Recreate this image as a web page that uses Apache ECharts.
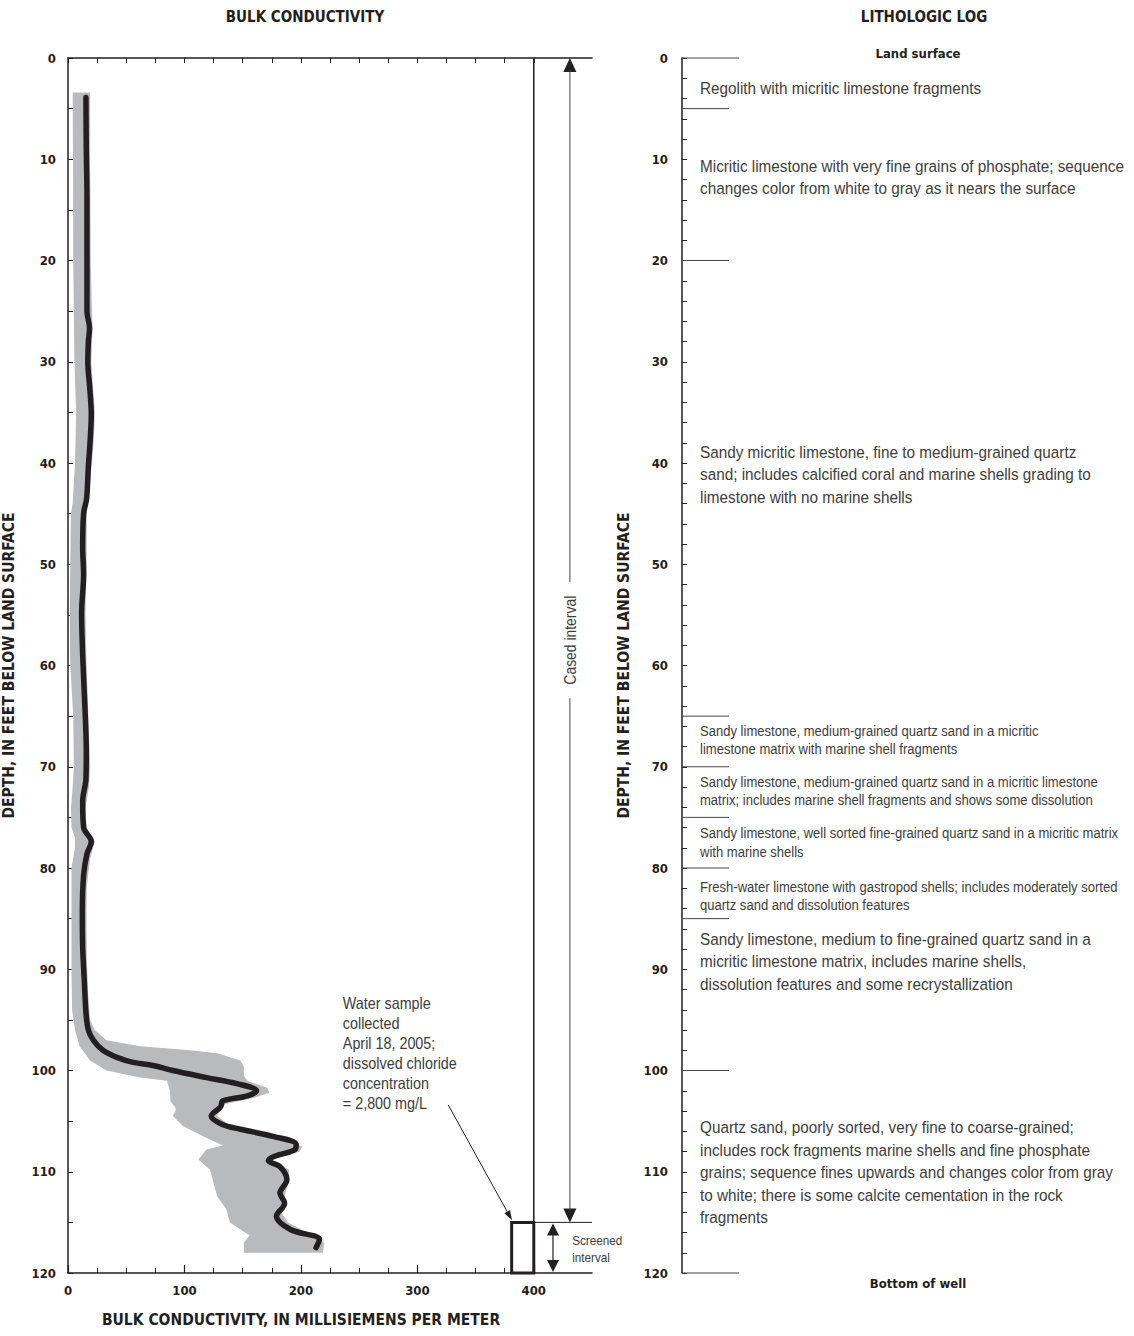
<!DOCTYPE html>
<html><head><meta charset="utf-8">
<script src="https://cdn.jsdelivr.net/npm/echarts@6/dist/echarts.min.js"></script>
<style>html,body{margin:0;padding:0;background:#fff}#c{width:1134px;height:1336px}</style>
</head><body><div id="c"></div>
<script>
// ---------------- DATA ----------------
// Bulk conductivity log (black curve): depth (ft) and conductivity (mS/m)
const curveDepth = [3.9,6,9,14,19,25,26.7,28,30,32.5,35.2,37.8,40.5,43.5,45,48.4,51,54.8,59,64.3,68.5,71.2,73.4,76,77.4,78.6,80.7,84.5,87.8,91.1,94.4,96,97,98,98.7,99.2,99.5,100,100.7,101.3,102,102.5,103,103.6,104.5,105.3,105.8,106.5,107.3,107.8,108.5,108.9,109.5,110.8,112.1,113.1,114.4,115.7,116.7,117.5];
const curveValue = [15.4,15.5,15.7,16.3,16.3,16.3,18.5,17.5,17,18.6,20,19,17.4,16,13.4,12.6,13.4,11.7,12.6,14.6,15.7,15.4,12.6,13.4,20,16.3,13.4,12.3,12.6,14,15.5,17.5,21.7,30,42,56,73,90,119,145,162,154,133,131,123,132,148,176,196,195,177,172,182,188,182,186,179,191,216,213];
// Gray envelope: left (low) edge and right (high) edge
const bandLeftDepth = [3.4,10,20,30,35,40,44,45,50,55,60,65,70,72,74,76,77,78,80,85,90,94,96,97.6,99,100,100.7,101,102,103,103.8,104.5,105.5,106.5,107.4,107.8,108.8,109.8,111.1,112.4,113.7,115,116.3,117,118];
const bandLeftValue = [4,4.3,4.5,5.5,7,6,4,2.5,2,1.5,2,4.5,5,4,2.6,3,6,6,3,3,3,3.5,6,10,19,33,62,85,87.6,88,93,90,99,116,133,119,112,122,125,128,136,139,156,151,151];
const bandRightDepth = [3.4,10,20,26.7,30,35,38,42,45,50,55,60,65,70,72,74,76,77.4,79,82,88,92,95,96,97,97.6,98,98.3,99,99.6,100.5,101,101.7,102.2,102.7,103.3,104.5,105.5,106.5,107.5,108,108.8,109.8,111,112.5,114,115,116.3,117,118];
const bandRightValue = [19,19,19.5,21,20,23,22,19,16,16,15,16,17.5,19,18,15,16,23,19,16,16,17,19,23,33,62,105,128,148,151,151,154,171,173,160,135,128,140,178,201,199,175,190,189,186,183,189,210,220,219];

// Axis ticks
const conductivityLabels = [0,100,200,300,400];
const conductivityMinorTicks = [0,25,50,75,100,125,150,175,200,225,250,275,300,325,350,375,400];
const depthLabels = [0,10,20,30,40,50,60,70,80,90,100,110,120];

// Well construction
const casingConductivity = 400;      // casing line drawn at this conductivity
const casedInterval = [0,115];
const screenedInterval = [115,120];
const sampleNote = 'Water sample\ncollected\nApril 18, 2005;\ndissolved chloride\nconcentration\n= 2,800 mg/L';

// Lithologic log
const layerTop = [0,5,20,65,70,75,80,85,100];
const layerBottom = [5,20,65,70,75,80,85,100,120];
const layerLabelDepth = [2.9,11.7,41.1,67.4,72.4,77.5,82.8,89.2,110.0];
const layerDesc = [
  'Regolith with micritic limestone fragments',
  'Micritic limestone with very fine grains of phosphate; sequence\nchanges color from white to gray as it nears the surface',
  'Sandy micritic limestone, fine to medium-grained quartz\nsand; includes calcified coral and marine shells grading to\nlimestone with no marine shells',
  'Sandy limestone, medium-grained quartz sand in a micritic\nlimestone matrix with marine shell fragments',
  'Sandy limestone, medium-grained quartz sand in a micritic limestone\nmatrix; includes marine shell fragments and shows some dissolution',
  'Sandy limestone, well sorted fine-grained quartz sand in a micritic matrix\nwith marine shells',
  'Fresh-water limestone with gastropod shells; includes moderately sorted\nquartz sand and dissolution features',
  'Sandy limestone, medium to fine-grained quartz sand in a\nmicritic limestone matrix, includes marine shells,\ndissolution features and some recrystallization',
  'Quartz sand, poorly sorted, very fine to coarse-grained;\nincludes rock fragments marine shells and fine phosphate\ngrains; sequence fines upwards and changes color from gray\nto white; there is some calcite cementation in the rock\nfragments'
];

// ---------------- STYLE ----------------
const NARROW = "'Liberation Sans Narrow','DejaVu Sans Condensed','Arial Narrow',sans-serif";
const LIGHT = "'Liberation Sans',Arial,sans-serif";
const INK = '#231f20';
const TEXT = '#3d3d3d';
const BAND = '#b9babc';
const SMALL_LAYERS = new Set([3,4,5,6]);

const chart = echarts.init(document.getElementById('c'), null, {renderer:'svg', width:1134, height:1336});

function headTri(x, y, dir, w, h) { // dir -1 = up, 1 = down; tip at (x,y)
  return {type:'polygon', shape:{points:[[x,y],[x-w/2,y-dir*h],[x+w/2,y-dir*h]]}, style:{fill:INK}};
}
function seg(p1, p2, w, color) {
  return {type:'line', shape:{x1:p1[0],y1:p1[1],x2:p2[0],y2:p2[1]}, style:{stroke:color||INK, lineWidth:w||1}};
}

function renderBand(params, api) {
  const pts = [];
  for (let i = 0; i < bandLeftDepth.length; i++) pts.push(api.coord([bandLeftValue[i], bandLeftDepth[i]]));
  for (let i = bandRightDepth.length - 1; i >= 0; i--) pts.push(api.coord([bandRightValue[i], bandRightDepth[i]]));
  return {type:'polygon', shape:{points:pts}, style:{fill:BAND}};
}

function renderWell(params, api) {
  const c = (x, d) => api.coord([x, d]);
  const ch = [];
  // casing line
  ch.push(seg(c(casingConductivity, 0), c(casingConductivity, 120), 1.5));
  // screen top line
  ch.push(seg(c(casingConductivity, screenedInterval[0]), c(450, screenedInterval[0]), 1));
  // screened box
  const b1 = c(381, screenedInterval[0]), b2 = c(casingConductivity, screenedInterval[1]);
  ch.push({type:'rect', shape:{x:b1[0], y:b1[1], width:b2[0]-b1[0], height:b2[1]-b1[1]}, style:{fill:'none', stroke:INK, lineWidth:3}});
  // cased interval arrow
  const ct = c(431, casedInterval[0]), cb = c(431, casedInterval[1]);
  const mid = (ct[1] + cb[1]) / 2;
  ch.push(headTri(ct[0], ct[1], -1, 13, 14));
  ch.push(headTri(cb[0], cb[1], 1, 13, 14));
  ch.push(seg([ct[0], ct[1] + 12], [ct[0], mid - 58], 1, '#444'));
  ch.push(seg([ct[0], mid + 58], [ct[0], cb[1] - 12], 1, '#444'));
  ch.push({type:'text', x:ct[0], y:mid, rotation:Math.PI/2, scaleX:0.87,
    style:{text:'Cased interval', fontFamily:LIGHT, fontSize:16, fill:TEXT, align:'center', verticalAlign:'middle'}});
  // screened interval arrow
  const st = c(416.5, screenedInterval[0]), sb = c(416.5, screenedInterval[1]);
  ch.push(headTri(st[0], st[1] + 1, -1, 12, 12));
  ch.push(headTri(sb[0], sb[1] - 1, 1, 12, 12));
  ch.push(seg([st[0], st[1] + 10], [st[0], sb[1] - 10], 1.2));
  const sl = c(433, (screenedInterval[0] + screenedInterval[1]) / 2);
  ch.push({type:'text', x:sl[0], y:sl[1] + 2, scaleX:0.9,
    style:{text:'Screened\ninterval', fontFamily:LIGHT, fontSize:13, lineHeight:17, fill:TEXT, align:'left', verticalAlign:'middle'}});
  // water sample note
  const np = c(236, 98.3);
  ch.push({type:'text', x:np[0], y:np[1], scaleX:0.87,
    style:{text:sampleNote, fontFamily:LIGHT, fontSize:16.5, lineHeight:20, fill:TEXT, align:'left', verticalAlign:'middle'}});
  const a1 = c(326.5, 103.4), a2 = c(381.3, 114.8);
  const ang = Math.atan2(a2[1]-a1[1], a2[0]-a1[0]);
  const L = 10, W = 3.2;
  const bx = a2[0] - L*Math.cos(ang), by = a2[1] - L*Math.sin(ang);
  ch.push(seg(a1, [bx, by], 1));
  ch.push({type:'polygon', shape:{points:[a2,[bx - W*Math.sin(ang), by + W*Math.cos(ang)],[bx + W*Math.sin(ang), by - W*Math.cos(ang)]]}, style:{fill:INK}});
  return {type:'group', children:ch};
}

function renderLitho(params, api) {
  const ch = [];
  const bounds = layerTop.concat([layerBottom[layerBottom.length-1]]);
  const top0 = bounds[0], bot0 = bounds[bounds.length-1];
  bounds.forEach(d => {
    const p = api.coord([0, d]);
    const len = (d === top0 || d === bot0) ? 57 : 47;
    ch.push(seg([p[0], p[1]], [p[0] + len, p[1]], 1, '#444'));
  });
  layerDesc.forEach((txt, i) => {
    const p = api.coord([0, layerLabelDepth[i]]);
    const small = SMALL_LAYERS.has(i);
    ch.push({type:'text', x:p[0] + 18, y:p[1], scaleX: 0.9,
      style:{text:txt, fontFamily:LIGHT, fontSize: small ? 14.5 : 17, lineHeight: small ? 18.5 : 22.5,
        fill:TEXT, align:'left', verticalAlign:'middle'}});
  });
  const pt = api.coord([0, top0]), pb = api.coord([0, bot0]);
  ch.push({type:'text', x:pt[0] + 236, y:pt[1] - 5,
    style:{text:'Land surface', fontFamily:NARROW, fontWeight:'bold', fontSize:13, fill:INK, align:'center', verticalAlign:'middle'}});
  ch.push({type:'text', x:pb[0] + 236, y:pb[1] + 10,
    style:{text:'Bottom of well', fontFamily:NARROW, fontWeight:'bold', fontSize:13, fill:INK, align:'center', verticalAlign:'middle'}});
  return {type:'group', children:ch};
}

const boldLabel = {fontFamily:NARROW, fontWeight:'bold', fontSize:13, color:INK};
const axisLine = {show:true, onZero:false, lineStyle:{color:INK, width:1.5}};
const nameStyle = {fontFamily:NARROW, fontWeight:'bold', fontSize:15.5, color:INK};

const option = {
  animation:false,
  backgroundColor:'#fff',
  title:[
    {text:'BULK CONDUCTIVITY', left:300, top:4, textAlign:'center', textStyle:{fontFamily:NARROW, fontWeight:'bold', fontSize:15, color:INK}},
    {text:'LITHOLOGIC LOG', left:919, top:4, textAlign:'center', textStyle:{fontFamily:NARROW, fontWeight:'bold', fontSize:15, color:INK}},
    {text:'BULK CONDUCTIVITY, IN MILLISIEMENS PER METER', left:296, top:1307, textAlign:'center', textStyle:nameStyle}
  ],
  grid:[
    {left:68, top:58, width:524, height:1215},
    {left:682, top:58, width:400, height:1215}
  ],
  xAxis:[
    {gridIndex:0, type:'value', min:0, max:450, position:'bottom',
      axisLine:axisLine,
      axisTick:{show:true, inside:true, length:5, customValues:conductivityMinorTicks, lineStyle:{color:INK, width:1}},
      axisLabel:{customValues:conductivityLabels, margin:11, ...boldLabel},
      splitLine:{show:false}},
    {gridIndex:0, type:'value', min:0, max:450, position:'bottom',
      axisLine:{show:false, onZero:false},
      axisTick:{show:true, inside:true, length:8, customValues:conductivityLabels, lineStyle:{color:INK, width:1.2}},
      axisLabel:{show:false}, splitLine:{show:false}},
    {gridIndex:0, type:'value', min:0, max:450, position:'top',
      axisLine:axisLine,
      axisTick:{show:true, inside:true, length:5, customValues:conductivityMinorTicks, lineStyle:{color:INK, width:1}},
      axisLabel:{show:false}, splitLine:{show:false}},
    {gridIndex:1, type:'value', min:0, max:100, show:false}
  ],
  yAxis:[
    {gridIndex:0, type:'value', min:0, max:120, interval:5, inverse:true,
      axisLine:axisLine,
      axisTick:{show:true, inside:true, length:5, lineStyle:{color:INK, width:1}},
      axisLabel:{customValues:depthLabels, margin:12, ...boldLabel},
      splitLine:{show:false},
      name:'DEPTH, IN FEET BELOW LAND SURFACE', nameLocation:'middle', nameGap:51, nameMoveOverlap:false,
      nameTextStyle:nameStyle},
    {gridIndex:1, type:'value', min:0, max:120, interval:2, inverse:true,
      axisLine:axisLine,
      axisTick:{show:true, inside:true, length:5, lineStyle:{color:INK, width:1}},
      axisLabel:{customValues:depthLabels, margin:14, ...boldLabel},
      splitLine:{show:false},
      name:'DEPTH, IN FEET BELOW LAND SURFACE', nameLocation:'middle', nameGap:50, nameMoveOverlap:false,
      nameTextStyle:nameStyle}
  ],
  series:[
    {type:'custom', xAxisIndex:0, yAxisIndex:0, data:[[0,0]], renderItem:renderBand, silent:true, z:1},
    {type:'line', xAxisIndex:0, yAxisIndex:0, data:curveDepth.map((d,i)=>[curveValue[i], d]),
      showSymbol:false, smooth:0.35, lineStyle:{color:INK, width:5.5, cap:'round', join:'round'}, z:2, silent:true},
    {type:'custom', xAxisIndex:0, yAxisIndex:0, data:[[0,0]], renderItem:renderWell, silent:true, z:3},
    {type:'custom', xAxisIndex:3, yAxisIndex:1, data:[[0,0]], renderItem:renderLitho, silent:true, z:3}
  ]
};
chart.setOption(option);
</script>
</body></html>
